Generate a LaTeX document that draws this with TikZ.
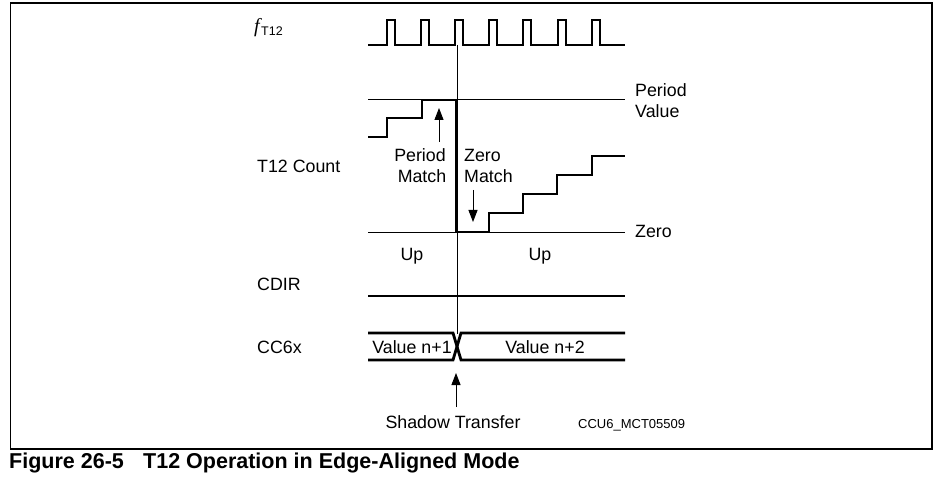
\documentclass[tikz,border=0pt]{standalone}
\usepackage{fontspec}
\setmainfont{Liberation Sans}
\newfontfamily\seriffont{Liberation Serif}
\usetikzlibrary{arrows.meta}
\begin{document}
\begin{tikzpicture}[x=1pt,y=-1pt,
  lbl/.style={font=\fontsize{17.8}{21}\selectfont, inner sep=0pt, anchor=base west},
  clbl/.style={lbl, anchor=base},
  wave/.style={line width=2.8pt, line join=miter, line cap=butt},
  thinline/.style={line width=1pt},
  arr/.style={line width=1pt, -{Triangle[length=12pt,width=9pt]}}]
\useasboundingbox (0,0) rectangle (941,486);
\draw[line width=1.5pt] (10.5,3) rectangle (932,449);

% labels left
\node[lbl, font=\fontsize{20}{21}\seriffont\itshape] (fl) at (254,33) {f};
\node[lbl, font=\fontsize{12.5}{14}\selectfont] (fs) at (261,36) {T12};
\node[lbl] (cnt) at (257,173) {T12 Count};
\node[lbl] (cdir) at (257,290) {CDIR};
\node[lbl] (cc6) at (257,353) {CC6x};

% clock
\draw[wave] (368,45) -- (387,45) -- (387,20) -- (395,20) -- (395,45)
  -- (421,45) -- (421,20) -- (429,20) -- (429,45)
  -- (455,45) -- (455,20) -- (463,20) -- (463,45)
  -- (489,45) -- (489,20) -- (497,20) -- (497,45)
  -- (523,45) -- (523,20) -- (531,20) -- (531,45)
  -- (558,45) -- (558,20) -- (566,20) -- (566,45)
  -- (592,45) -- (592,20) -- (600,20) -- (600,45) -- (625,45);

% reference lines
\draw[thinline] (368,100) -- (625,100);
\draw[thinline] (368,232) -- (625,232);
\draw[thinline] (457,45) -- (457,334);

% counter
\draw[wave] (368,137) -- (387,137) -- (387,118) -- (422,118) -- (422,100)
  -- (456,100) -- (456,232) -- (489,232) -- (489,213) -- (523,213)
  -- (523,194) -- (557,194) -- (557,175) -- (592,175) -- (592,156) -- (625,156);

\node[lbl] (pv1) at (635,97) {Period};
\node[lbl] (pv2) at (635,118) {Value};
\node[lbl] (zl) at (635,237) {Zero};

\node[clbl] (pm1) at (420,162) {Period};
\node[clbl] (pm2) at (422,183) {Match};
\node[lbl] (zm1) at (464,162) {Zero};
\node[lbl] (zm2) at (464,183) {Match};
\coordinate (pmt) at (439,108);
\coordinate (pmb) at (439,142);
\coordinate (zmt) at (473,190);
\coordinate (zmb) at (473,222);
\draw[arr] (pmb) -- (pmt);
\draw[arr] (zmt) -- (zmb);

\node[clbl] (up1) at (412,260) {Up};
\node[clbl] (up2) at (540,260) {Up};

% CDIR
\draw[wave] (368,296) -- (625,296);

% CC6x
\draw[wave] (368,333) -- (453,333) -- (461,360) -- (625,360);
\draw[wave] (368,360) -- (453,360) -- (461,333) -- (625,333);
\node[clbl] (v1) at (412,353) {Value n+1};
\node[clbl] (v2) at (545,353) {Value n+2};

% shadow transfer
\node[clbl] (st) at (453,428) {Shadow Transfer};
\coordinate (stt) at (456,373);
\coordinate (stb) at (456,407);
\draw[arr] (stb) -- (stt);
\node[lbl, font=\fontsize{13}{15}\selectfont] (id) at (578,428) {CCU6\_MCT05509};

% caption
\node[lbl, font=\fontsize{21.5}{24}\bfseries] (cap1) at (9,468) {Figure 26-5};
\node[lbl, font=\fontsize{21.5}{24}\bfseries] (cap2) at (143,468) {T12 Operation in Edge-Aligned Mode};
\end{tikzpicture}
\end{document}
